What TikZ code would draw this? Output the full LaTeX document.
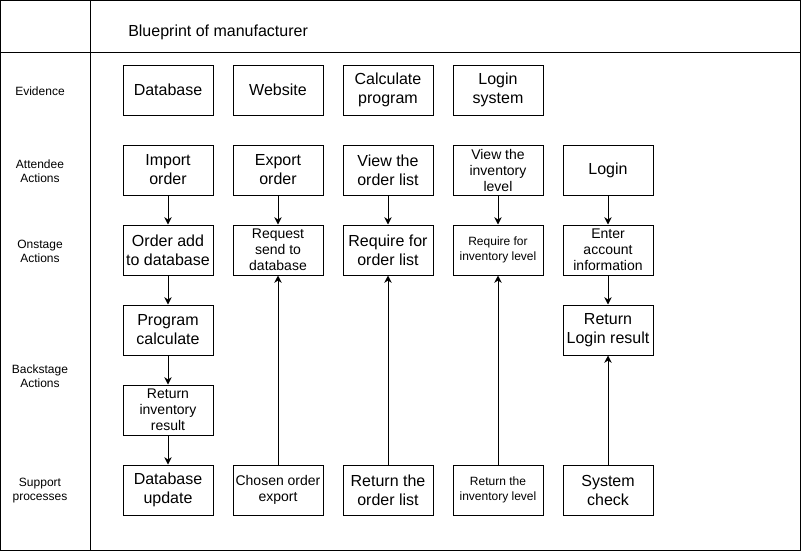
\documentclass[tikz,border=0pt]{standalone}
\usepackage{fontspec}
\setmainfont{Liberation Sans}
\usetikzlibrary{arrows.meta}
\tikzset{
  stage/.style={draw, line width=0.75pt, minimum width=67.5pt, minimum height=37.5pt, inner sep=1pt, align=center, font=\fontsize{12}{14.25}\selectfont},
  stagemid/.style={stage, font=\fontsize{10.5}{12}\selectfont},
  stagesmall/.style={stage, font=\fontsize{9}{11}\selectfont},
  lanelabel/.style={align=center, font=\fontsize{9}{10.5}\selectfont},
  flow/.style={-{Stealth[length=5.5pt,width=5.5pt]}, line width=0.75pt}
}
\begin{document}
\begin{tikzpicture}[x=0.75pt,y=-0.75pt]
    \useasboundingbox (0,0) rectangle (801,551);
    \draw[line width=0.75pt] (0.5,0.5) rectangle (800,550);
    \draw[line width=0.75pt] (0.5,52) -- (800,52);
    \draw[line width=0.75pt] (90,0.5) -- (90,550);
    \node[anchor=west, inner sep=0pt, font=\fontsize{12}{14}\selectfont] (title) at (128,32) {Blueprint of manufacturer};
    % lanes
    \node[lanelabel] (evidence) at (40,91) {Evidence};
    \node[lanelabel] (attendee) at (40,171) {Attendee\\Actions};
    \node[lanelabel] (onstage) at (40,251) {Onstage\\Actions};
    \node[lanelabel] (backstage) at (40,376) {Backstage\\Actions};
    \node[lanelabel] (support) at (40,491) {Support\\processes};
    % evidence
    \node[stage] (ev1) at (168,90) {Database};
    \node[stage] (ev2) at (278,90) {Website};
    \node[stage] (ev3) at (388,90) {Calculate\\program};
    \node[stage] (ev4) at (498,90) {Login\\system};
    % attendee actions
    \node[stage] (at1) at (168,170) {Import\\order};
    \node[stage] (at2) at (278,170) {Export\\order};
    \node[stage] (at3) at (388,170) {View the\\order list};
    \node[stagemid] (at4) at (498,170) {View the\\inventory\\level};
    \node[stage] (at5) at (608,170) {Login};
    % onstage actions
    \node[stage] (on1) at (168,250) {Order add\\to database};
    \node[stagemid] (on2) at (278,250) {Request\\send to\\database};
    \node[stage] (on3) at (388,250) {Require for\\order list};
    \node[stagesmall] (on4) at (498,250) {Require for\\inventory level};
    \node[stagemid] (on5) at (608,250) {Enter\\account\\information};
    % backstage actions
    \node[stage] (bs1) at (168,330) {Program\\calculate};
    \node[stagemid] (bs2) at (168,410) {Return\\inventory\\result};
    \node[stage] (bs5) at (608,330) {Return\\Login result};
    % support processes
    \node[stage] (sp1) at (168,490) {Database\\update};
    \node[stagemid] (sp2) at (278,490) {Chosen order\\export};
    \node[stage] (sp3) at (388,490) {Return the\\order list};
    \node[stagesmall] (sp4) at (498,490) {Return the\\inventory level};
    \node[stage] (sp5) at (608,490) {System\\check};
    % flows
    \draw[flow] (at1) -- (on1);
    \draw[flow] (on1) -- (bs1);
    \draw[flow] (bs1) -- (bs2);
    \draw[flow] (bs2) -- (sp1);
    \draw[flow] (at2) -- (on2);
    \draw[flow] (sp2) -- (on2);
    \draw[flow] (at3) -- (on3);
    \draw[flow] (sp3) -- (on3);
    \draw[flow] (at4) -- (on4);
    \draw[flow] (sp4) -- (on4);
    \draw[flow] (at5) -- (on5);
    \draw[flow] (on5) -- (bs5);
    \draw[flow] (sp5) -- (bs5);
\end{tikzpicture}
\end{document}
